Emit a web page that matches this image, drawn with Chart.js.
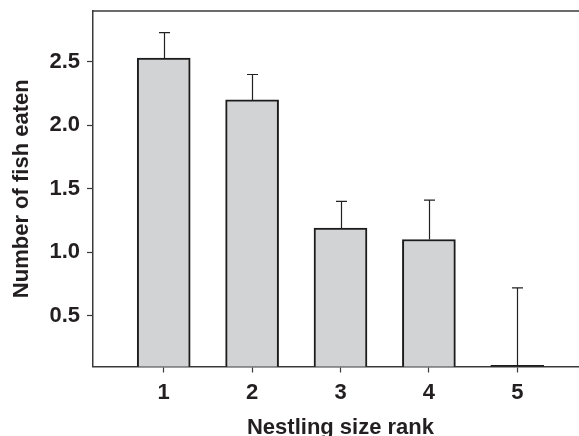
<!DOCTYPE html>
<html>
<head>
<meta charset="utf-8">
<script src="https://cdn.jsdelivr.net/npm/chart.js@4/dist/chart.umd.min.js"></script>
<style>
  html, body { margin: 0; padding: 0; background: #fff; }
  #wrap { position: relative; width: 579px; height: 436px; overflow: hidden; }
  canvas { display: block; }
</style>
</head>
<body>
<div id="wrap"><canvas id="c" width="600" height="441"></canvas></div>
<script>
// Data
const ranks = [1, 2, 3, 4, 5];
const meanFish = [2.53, 2.20, 1.19, 1.10, 0.11];
const upperError = [2.73, 2.40, 1.40, 1.41, 0.72];
const yTickValues = [0.5, 1.0, 1.5, 2.0, 2.5];

const TEXT = '#231f20';
const AXIS = '#3a3a3a';
const FONT = "'Liberation Sans', Arial, sans-serif";

const errorBars = {
  id: 'errorBars',
  afterDatasetsDraw(chart) {
    const { ctx, scales: { x, y } } = chart;
    ctx.save();
    ctx.strokeStyle = '#222';
    ctx.lineWidth = 1.2;
    ranks.forEach((r, i) => {
      const px = Math.round(x.getPixelForValue(r)) + 0.5;
      const pTop = y.getPixelForValue(meanFish[i]);
      const pErr = y.getPixelForValue(upperError[i]);
      ctx.beginPath();
      ctx.moveTo(px, pTop);
      ctx.lineTo(px, pErr);
      ctx.moveTo(px - 5.5, pErr);
      ctx.lineTo(px + 5.5, pErr);
      ctx.stroke();
    });
    ctx.restore();
  }
};

// top edge of the frame (the reference shows no right edge)
const frameTop = {
  id: 'frameTop',
  afterDraw(chart) {
    const { ctx, chartArea: a } = chart;
    ctx.save();
    ctx.strokeStyle = AXIS;
    ctx.lineWidth = 1.5;
    ctx.beginPath();
    ctx.moveTo(a.left, a.top);
    ctx.lineTo(a.right, a.top);
    ctx.stroke();
    ctx.restore();
  }
};

new Chart(document.getElementById('c'), {
  type: 'bar',
  data: {
    datasets: [{
      data: ranks.map((r, i) => ({ x: r, y: meanFish[i] })),
      backgroundColor: '#d2d3d5',
      borderColor: '#1c1c1c',
      borderWidth: 2,
      borderSkipped: false,
      barThickness: 53
    }]
  },
  options: {
    responsive: false,
    animation: false,
    layout: { padding: { left: 0, top: 11, right: 12, bottom: 0 } },
    plugins: { legend: { display: false }, tooltip: { enabled: false } },
    scales: {
      x: {
        type: 'linear',
        min: 0.2,
        max: 5.8,
        offset: false,
        afterBuildTicks: (s) => { s.ticks = ranks.map(v => ({ value: v })); },
        afterFit: (s) => { s.height = 74.5; s.paddingLeft = 0; s.paddingRight = 0; },
        grid: { offset: false, drawOnChartArea: false, drawTicks: true, tickLength: 6, tickColor: AXIS, tickWidth: 1.2 },
        border: { display: true, color: AXIS, width: 1.5 },
        ticks: { color: TEXT, padding: 7, maxRotation: 0, autoSkip: false,
                 font: { family: FONT, size: 22, weight: 'bold' } },
        title: { display: true, text: 'Nestling size rank', color: TEXT,
                 padding: { top: 8, bottom: 0 },
                 font: { family: FONT, size: 22, weight: 'bold' } }
      },
      y: {
        min: 0.1,
        max: 2.9,
        afterBuildTicks: (s) => { s.ticks = yTickValues.map(v => ({ value: v })); },
        afterFit: (s) => { s.width = 93; s.paddingTop = 0; s.paddingBottom = 0; },
        grid: { drawOnChartArea: false, drawTicks: true, tickLength: 6, tickColor: AXIS, tickWidth: 1.2 },
        border: { display: true, color: AXIS, width: 1.5 },
        ticks: { color: TEXT, padding: 7,
                 callback: (v) => Number(v).toFixed(1),
                 font: { family: FONT, size: 22, weight: 'bold' } },
        title: { display: true, text: 'Number of fish eaten', color: TEXT,
                 padding: { top: 9, bottom: 10 },
                 font: { family: FONT, size: 22, weight: 'bold' } }
      }
    }
  },
  plugins: [errorBars, frameTop]
});
</script>
</body>
</html>
